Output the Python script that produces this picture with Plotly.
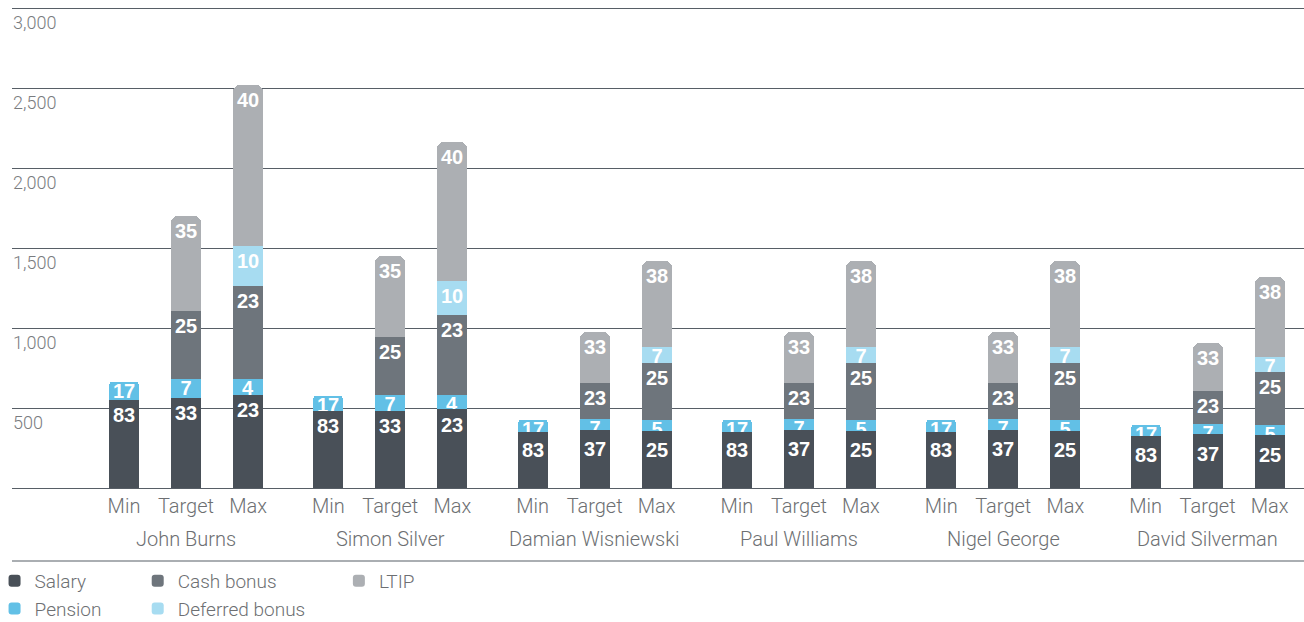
import plotly.graph_objects as go

# Remuneration scenarios per director (£000) and the share of each element (%)
directors = ["John Burns", "Simon Silver", "Damian Wisniewski",
             "Paul Williams", "Nigel George", "David Silverman"]
scenarios = ["Min", "Target", "Max"]

# Total package per director for Min / Target / Max
totals = {
    "John Burns":        [665, 1700, 2520],
    "Simon Silver":      [577, 1450, 2160],
    "Damian Wisniewski": [425, 975, 1420],
    "Paul Williams":     [425, 975, 1420],
    "Nigel George":      [425, 975, 1420],
    "David Silverman":   [394, 908, 1321],
}

# Percentage share of each element, listed bottom-up: Salary, Pension, Cash bonus, Deferred bonus, LTIP
components = ["Salary", "Pension", "Cash bonus", "Deferred bonus", "LTIP"]
shares = {
    "John Burns":        [[83, 17, 0, 0, 0], [33, 7, 25, 0, 35], [23, 4, 23, 10, 40]],
    "Simon Silver":      [[83, 17, 0, 0, 0], [33, 7, 25, 0, 35], [23, 4, 23, 10, 40]],
    "Damian Wisniewski": [[83, 17, 0, 0, 0], [37, 7, 23, 0, 33], [25, 5, 25, 7, 38]],
    "Paul Williams":     [[83, 17, 0, 0, 0], [37, 7, 23, 0, 33], [25, 5, 25, 7, 38]],
    "Nigel George":      [[83, 17, 0, 0, 0], [37, 7, 23, 0, 33], [25, 5, 25, 7, 38]],
    "David Silverman":   [[83, 17, 0, 0, 0], [37, 7, 23, 0, 33], [25, 5, 25, 7, 38]],
}
y_ticks = [0, 500, 1000, 1500, 2000, 2500, 3000]

colors = {
    "Salary": "#495058",
    "Pension": "#62c0e6",
    "Cash bonus": "#6e757c",
    "Deferred bonus": "#a7dcf1",
    "LTIP": "#acafb3",
}
legend_slot = {
    "Salary": ("legend", 1), "Pension": ("legend", 2),
    "Cash bonus": ("legend2", 1), "Deferred bonus": ("legend2", 2),
    "LTIP": ("legend3", 1),
}

GROUP_STEP = 3.295
BAR_WIDTH = 0.484
TEXT_COLOR = "#6d6f72"
LINE_COLOR = "#575e66"
LIGHT_FONT = dict(family="Roboto, Liberation Sans, sans-serif", size=20,
                  color=TEXT_COLOR, weight=300)
LEGEND_FONT = dict(LIGHT_FONT, size=19)
VALUE_FONT = dict(family="Liberation Sans, Arial, sans-serif", size=20,
                  color="white", weight="bold")

# Plot area: 480 px for 0-3,000 with a few px of headroom above the top gridline
PLOT_TOP, PLOT_BOTTOM = 3, 134
plot_h = 622 - PLOT_TOP - PLOT_BOTTOM
PX_PER_UNIT = 480 / 3000
y_max = plot_h / PX_PER_UNIT


def px(n):
    """Convert a pixel distance into y-axis units."""
    return n / PX_PER_UNIT


def paper_y(px_below_axis):
    return -px_below_axis / plot_h


x_pos, tick_text = [], []
for g, name in enumerate(directors):
    for i, sc in enumerate(scenarios):
        x_pos.append(g * GROUP_STEP + i)
        tick_text.append(sc)

# Cumulative segment tops and label centres for every bar
n_comp = len(components)
tops = [[] for _ in range(n_comp)]
label_y = [[] for _ in range(n_comp)]
for name in directors:
    for s in range(3):
        pct = shares[name][s]
        seg_tops = [totals[name][s] * sum(pct[:k + 1]) / 100 for k in range(n_comp)]
        above = None
        ys = [None] * n_comp
        for k in reversed(range(n_comp)):
            if pct[k] == 0:
                continue
            seg_h = totals[name][s] * pct[k] / 100
            # short segments keep their label near the top edge; others sit a bit lower
            y = seg_tops[k] - (px(9) if seg_h < px(25) else px(15))
            if above is not None:
                y = min(y, above - px(21))
            ys[k] = y
            above = y
        for k in range(n_comp):
            tops[k].append(seg_tops[k] if pct[k] else None)
            label_y[k].append(ys[k])

fig = go.Figure()

# Each element is a bar from zero up to its cumulative top, drawn from the top
# element down so every rounded cap sits over the segment below. Each element's
# values follow right after it, so the next segment down may overlap them.
LABEL_HALF = px(12)
for k in reversed(range(n_comp)):
    comp = components[k]
    leg, rank = legend_slot[comp]
    fig.add_trace(go.Bar(
        x=x_pos, y=tops[k], name=comp, width=BAR_WIDTH,
        marker=dict(color=colors[comp], cornerradius=7, line=dict(width=0)),
        legend=leg, legendrank=rank,
    ))
    pct_text = [str(shares[d][s][k]) if shares[d][s][k] else ""
                for d in directors for s in range(3)]
    fig.add_trace(go.Bar(
        x=x_pos,
        y=[2 * LABEL_HALF if v is not None else None for v in label_y[k]],
        base=[v - LABEL_HALF if v is not None else None for v in label_y[k]],
        width=BAR_WIDTH, marker=dict(color="rgba(0,0,0,0)", line=dict(width=0)),
        text=pct_text, textposition="inside", insidetextanchor="middle",
        textangle=0, constraintext="none", textfont=VALUE_FONT,
        hoverinfo="skip", showlegend=False, legend=leg,
    ))

# Director names under each group of three bars
for g, name in enumerate(directors):
    fig.add_annotation(x=g * GROUP_STEP + 1, y=paper_y(51), xref="x", yref="paper",
                       text=name, showarrow=False, font=LIGHT_FONT,
                       xanchor="center", yanchor="middle")

# Divider between the axis labels and the key
fig.add_shape(type="line", xref="paper", yref="paper", x0=0, x1=1,
              y0=paper_y(73), y1=paper_y(73), line=dict(color=LINE_COLOR, width=1.2))

legend_common = dict(orientation="v", bgcolor="rgba(0,0,0,0)",
                     font=LEGEND_FONT, yanchor="top", xanchor="left",
                     itemclick=False, itemdoubleclick=False, tracegroupgap=0)
fig.update_layout(
    width=1304, height=622,
    margin=dict(l=12, r=0, t=PLOT_TOP, b=PLOT_BOTTOM, autoexpand=False),
    paper_bgcolor="white", plot_bgcolor="white",
    barmode="overlay", bargap=0,
    showlegend=True,
    legend=dict(x=-0.0135, y=paper_y(74), **legend_common),
    legend2=dict(x=0.0973, y=paper_y(74), **legend_common),
    legend3=dict(x=0.253, y=paper_y(74), **legend_common),
    xaxis=dict(range=[-1.806, 19.03], tickvals=x_pos, ticktext=tick_text,
               showgrid=False, zeroline=False, showline=False, ticks="",
               tickfont=LIGHT_FONT, ticklabelstandoff=4, fixedrange=True),
    yaxis=dict(range=[0, y_max], tickvals=y_ticks,
               ticktext=[f"{v:,}" for v in y_ticks],
               ticklabelposition="inside bottom",
               ticklabelstandoff=-2, ticklabelshift=2,
               tickfont=dict(family="Roboto, Liberation Sans, sans-serif",
                             size=18, color="#7a7c7f", weight=300),
               showgrid=True, gridcolor=LINE_COLOR, gridwidth=1.2,
               zeroline=True, zerolinecolor=LINE_COLOR, zerolinewidth=1.2,
               showline=False, ticks="", fixedrange=True),
)

fig.write_html("out.html")
